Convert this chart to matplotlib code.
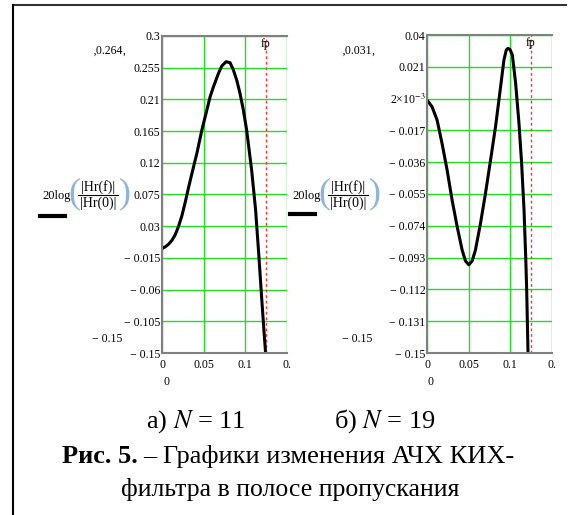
import numpy as np
import matplotlib.pyplot as plt
from matplotlib.lines import Line2D

plt.rcParams['font.family'] = ['Liberation Serif', 'DejaVu Serif']
plt.rcParams['mathtext.fontset'] = 'stix'

# N = 11
f11 = [0, 0.004, 0.008, 0.012, 0.016, 0.020, 0.024, 0.028, 0.032, 0.038, 0.042, 0.048,
       0.053, 0.058, 0.062, 0.068, 0.072, 0.0772, 0.082, 0.086, 0.090, 0.094, 0.098,
       0.102, 0.108, 0.1128, 0.1168, 0.120, 0.1228, 0.1248]
h11 = [-0.0017, 0.0008, 0.0045, 0.010, 0.018, 0.030, 0.045, 0.064, 0.085, 0.1143, 0.1333,
       0.1664, 0.190, 0.2138, 0.228, 0.2469, 0.2574, 0.2635, 0.2621, 0.2517, 0.2375,
       0.2185, 0.195, 0.1664, 0.1096, 0.0527, -0.0136, -0.0704, -0.1178, -0.15]

# N = 19
f19 = [0, 0.006, 0.0121, 0.0181, 0.0242, 0.0302, 0.0363, 0.0423, 0.0463, 0.0504, 0.0544,
       0.0584, 0.0645, 0.0705, 0.0766, 0.0826, 0.0887, 0.0927, 0.0955, 0.0975, 0.100,
       0.1028, 0.1068, 0.1108, 0.114, 0.1169, 0.1189, 0.1201, 0.1217]
h19 = [0.0012, -0.0028, -0.0107, -0.0247, -0.0406, -0.0585, -0.0744, -0.0884, -0.0950,
       -0.0973, -0.0950, -0.0884, -0.0724, -0.0545, -0.0346, -0.0147, 0.0092, 0.0251, 0.031,
       0.032, 0.0314, 0.0281, 0.0111, -0.0127, -0.0366, -0.0645, -0.0923, -0.1122, -0.15]

yt11 = [0.3, 0.255, 0.21, 0.165, 0.12, 0.075, 0.03, -0.015, -0.06, -0.105, -0.15]
yl11 = ['0.3', '0.255', '0.21', '0.165', '0.12', '0.075', '0.03', '− 0.015', '− 0.06', '− 0.105', '− 0.15']
yt19 = [0.04, 0.021, 0.002, -0.017, -0.036, -0.055, -0.074, -0.093, -0.112, -0.131, -0.15]
yl19 = ['0.04', '0.021', r'2×10$^{-3}$', '− 0.017', '− 0.036', '− 0.055', '− 0.074', '− 0.093', '− 0.112', '− 0.131', '− 0.15']
xt = [0, 0.05, 0.1, 0.15]
xl = ['0', '0.05', '0.1', '0.']
fp = 0.125
peaks = ['0.264', '0.031']

W, H = 568, 515
fig = plt.figure(figsize=(W / 100, H / 100), dpi=100)


def px(x, y):
    return x / W, 1 - y / H


def make_axes(x0, top, bottom, f, h, yt, yl):
    ax = fig.add_axes([x0 / W, 1 - bottom / H, 124.5 / W, (bottom - top) / H])
    ax.set_xlim(0, 0.15)
    ax.set_ylim(yt[-1], yt[0])
    ax.set_yticks(yt)
    ax.set_yticklabels(yl)
    ax.set_xticks(xt)
    ax.set_xticklabels(xl)
    ax.tick_params(length=0, labelsize=8.5, pad=1)
    ax.tick_params(axis='x', pad=4)
    ax.grid(True, color='#22dd22', lw=1)
    ax.set_axisbelow(True)
    for s in ['left', 'top', 'bottom']:
        ax.spines[s].set_color('#808080')
        ax.spines[s].set_linewidth(1.5)
    ax.spines['right'].set_visible(False)
    ax.axvline(fp, color='#ff3030', ls=(0, (2, 2)), lw=1)
    ax.plot(f, h, color='black', lw=2.2, solid_joinstyle='round', solid_capstyle='butt')
    ax.text(fp, 0.995, 'fp', transform=ax.get_xaxis_transform(), ha='center', va='top',
            fontsize=8.5)
    return ax


make_axes(162, 36, 353, f11, h11, yt11, yl11)
make_axes(427, 35, 353, f19, h19, yt19, yl19)


def ylabel(x0, ylin, peak, xpeak, xmin):
    fig.text(*px(x0, 196), '20log', fontsize=9, va='center', ha='left')
    fig.text(*px(x0 + 26, 194), '(', fontsize=26, va='center', ha='left',
             color='#8fb4dc')
    fig.text(*px(x0 + 56, 187), '|Hr(f)|', fontsize=10, va='center', ha='center')
    fig.add_artist(Line2D([(x0 + 36) / W, (x0 + 76) / W], [1 - 194.5 / H] * 2,
                          color='black', lw=0.8))
    fig.text(*px(x0 + 56, 203), '|Hr(0)|', fontsize=10, va='center', ha='center')
    fig.text(*px(x0 + 77, 194), ')', fontsize=26, va='center', ha='left',
             color='#8fb4dc')
    fig.add_artist(Line2D([(x0 - 2) / W, (x0 + 23) / W], [1 - ylin / H] * 2,
                          color='black', lw=3))
    fig.text(*px(xpeak, 51), '‚' + peak + '‚', fontsize=8.5, va='center', ha='center')
    fig.text(*px(xmin, 339), '− 0.15', fontsize=8.5, va='center', ha='center')


ylabel(42, 216, peaks[0], 110, 107)
ylabel(292, 214, peaks[1], 359, 357)
fig.text(*px(166, 382), '0', fontsize=8.5, ha='center', va='center')
fig.text(*px(431, 382), '0', fontsize=8.5, ha='center', va='center')

# frame
fig.add_artist(Line2D([13 / W, 566 / W], [1 - 5 / H] * 2, color='#333333', lw=1.5))
fig.add_artist(Line2D([13 / W, 13 / W], [1 - 5 / H, 0], color='black', lw=1.5))

fs = 19
fig.text(*px(196, 428), r'а) $N$ = 11', fontsize=fs, ha='center', va='baseline')
fig.text(*px(385, 428), r'б) $N$ = 19', fontsize=fs, ha='center', va='baseline')

r = fig.canvas.get_renderer()
t1 = fig.text(*px(62, 463), 'Рис. 5.', fontsize=fs, ha='left', va='baseline',
              fontweight='bold')
bb = t1.get_window_extent(renderer=r)
fig.text(bb.x1 / W + 5 / W, 1 - 463 / H, '– Графики изменения АЧХ КИХ-', fontsize=fs,
         ha='left', va='baseline')
fig.text(*px(290, 496), 'фильтра в полосе пропускания', fontsize=18.5, ha='center',
         va='baseline')

fig.savefig('out.png', dpi=100)
